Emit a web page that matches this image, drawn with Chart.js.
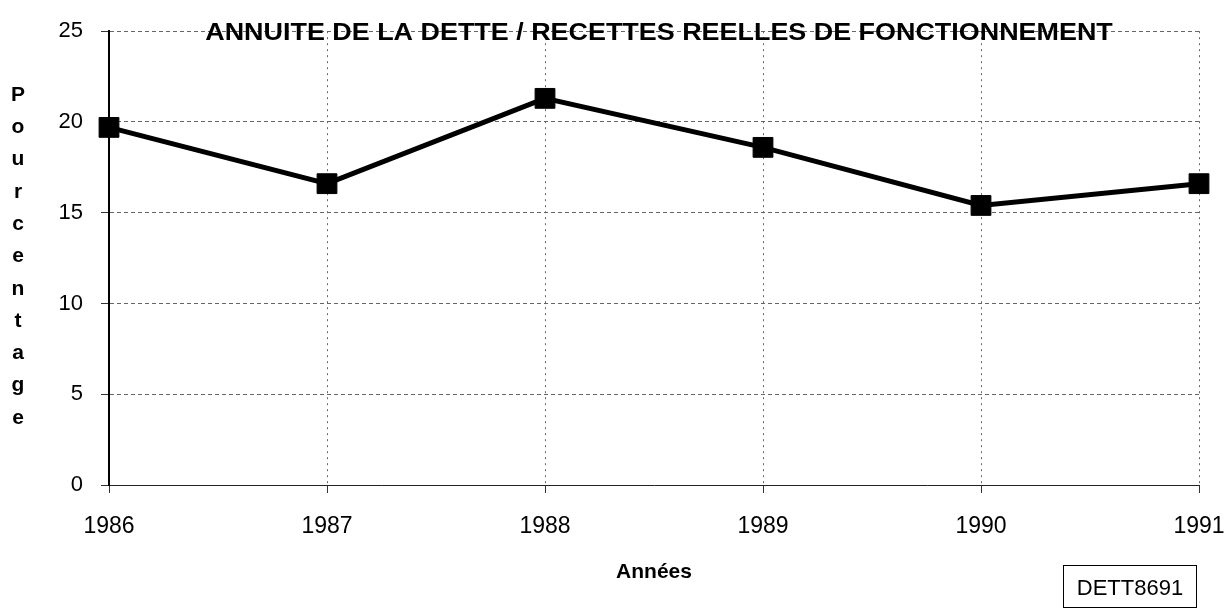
<!DOCTYPE html>
<html>
<head>
<meta charset="utf-8">
<script src="https://cdn.jsdelivr.net/npm/chart.js@4.4.1/dist/chart.umd.min.js"></script>
<style>
    html, body { margin: 0; padding: 0; background: #fff; }
    #wrap { position: relative; width: 1227px; height: 612px; }
    #tag {
        position: absolute; left: 1063px; top: 565px; width: 134px; height: 43px;
        border: 1px solid #000; font: 22px "Liberation Sans", Arial, sans-serif;
        line-height: 43px; text-align: center; box-sizing: border-box;
    }
</style>
</head>
<body>
<div id="wrap">
    <canvas id="grafico" width="1227" height="612"></canvas>
    <div id="tag">DETT8691</div>
</div>
<script>
const annees = ['1986', '1987', '1988', '1989', '1990', '1991']
const pourcentages = [19.7, 16.6, 21.3, 18.6, 15.4, 16.6]
const ticksY = [0, 5, 10, 15, 20, 25]

const titre = 'ANNUITE DE LA DETTE / RECETTES REELLES DE FONCTIONNEMENT'
const titreAxeY = 'Pourcentage'

// titre dessine sur la ligne du haut + lettres empilees a gauche
const textes = {
    id: 'textes',
    afterDraw(chart) {
        const ctx = chart.ctx
        const area = chart.chartArea
        ctx.save()
        ctx.fillStyle = '#000'
        ctx.textAlign = 'center'
        ctx.textBaseline = 'middle'
        ctx.font = 'bold 23px "Liberation Sans", Arial, sans-serif'
        // le scan est un peu etire en largeur
        ctx.translate(659, area.top + 2)
        ctx.scale(1.17, 1)
        ctx.fillText(titre, 0, 0)
        ctx.setTransform(1, 0, 0, 1, 0, 0)

        ctx.font = 'bold 21px "Liberation Sans", Arial, sans-serif'
        const lettres = titreAxeY.split('')
        const pas = 32.3
        for (let i = 0; i < lettres.length; i++) {
            ctx.fillText(lettres[i], 18, 95 + i * pas)
        }
        ctx.restore()
    }
}

new Chart(document.getElementById('grafico'), {
    type: 'line',
    data: {
        labels: annees,
        datasets: [{
            data: pourcentages,
            borderColor: '#000',
            borderWidth: 5,
            backgroundColor: '#000',
            pointStyle: 'rect',
            pointRadius: 14,
            pointBorderWidth: 1,
            tension: 0,
            fill: false
        }]
    },
    options: {
        responsive: false,
        animation: false,
        layout: { padding: { left: 10, right: 0, top: 27, bottom: 0 } },
        plugins: {
            legend: { display: false },
            tooltip: { enabled: false },
            title: { display: false }
        },
        scales: {
            x: {
                offset: false,
                grid: { color: '#666', lineWidth: 1, tickLength: 8, tickColor: '#333' },
                // en v4 le dash du border s'applique aux lignes de grille
                border: { display: true, color: '#222', width: 1, dash: [2, 4] },
                ticks: {
                    color: '#000', padding: 20,
                    font: { family: '"Liberation Sans", Arial, sans-serif', size: 23 },
                    maxRotation: 0
                },
                title: {
                    display: true, text: 'Années', color: '#000',
                    font: { family: '"Liberation Sans", Arial, sans-serif', size: 21, weight: 'bold' },
                    padding: { top: 0, bottom: 27 }
                },
                afterFit: function (scale) {
                    scale.height = 127
                    scale.paddingRight = 28
                }
            },
            y: {
                min: 0,
                max: 25,
                afterBuildTicks: function (scale) {
                    scale.ticks = ticksY.map(function (v) { return { value: v } })
                },
                grid: { color: '#666', lineWidth: 1, tickLength: 8, tickColor: '#333' },
                border: { display: true, color: '#000', width: 2, dash: [4, 3] },
                ticks: {
                    color: '#000', padding: 18,
                    font: { family: '"Liberation Sans", Arial, sans-serif', size: 22 }
                },
                afterFit: function (scale) { scale.width = 99 }
            }
        }
    },
    plugins: [textes]
})
</script>
</body>
</html>
